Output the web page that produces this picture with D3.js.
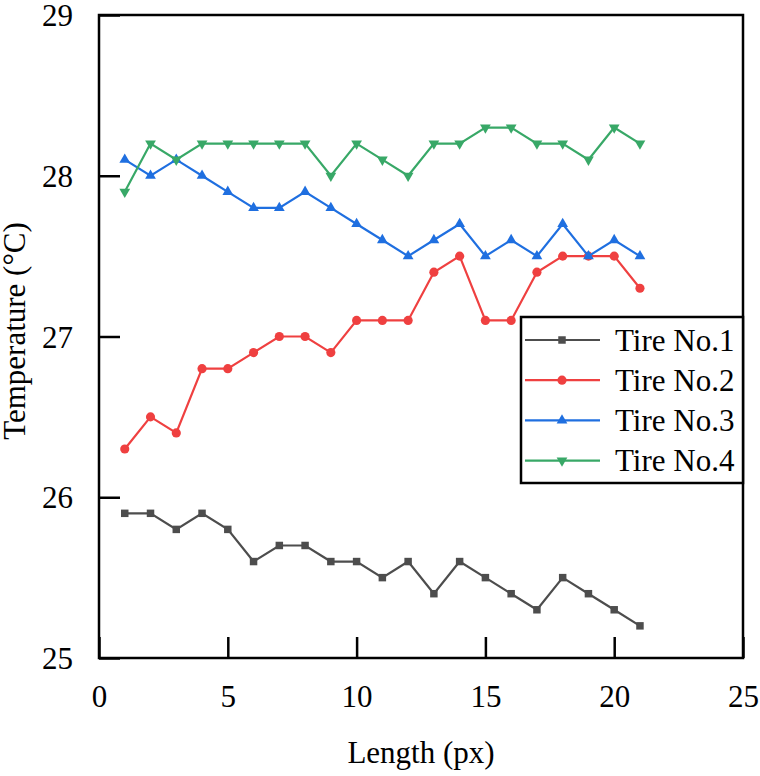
<!DOCTYPE html>
<html>
<head>
<meta charset="utf-8">
<script src="https://cdn.jsdelivr.net/npm/d3@7"></script>
</head>
<body style="margin:0;background:#fff">
<svg width="760" height="776" font-family="Liberation Serif"></svg>
<script>
// dati
const lengths = d3.range(1, 22);
const tire1 = [25.9, 25.9, 25.8, 25.9, 25.8, 25.6, 25.7, 25.7, 25.6, 25.6, 25.5, 25.6, 25.4, 25.6, 25.5, 25.4, 25.3, 25.5, 25.4, 25.3, 25.2];
const tire2 = [26.3, 26.5, 26.4, 26.8, 26.8, 26.9, 27.0, 27.0, 26.9, 27.1, 27.1, 27.1, 27.4, 27.5, 27.1, 27.1, 27.4, 27.5, 27.5, 27.5, 27.3];
const tire3 = [28.1, 28.0, 28.1, 28.0, 27.9, 27.8, 27.8, 27.9, 27.8, 27.7, 27.6, 27.5, 27.6, 27.7, 27.5, 27.6, 27.5, 27.7, 27.5, 27.6, 27.5];
const tire4 = [27.9, 28.2, 28.1, 28.2, 28.2, 28.2, 28.2, 28.2, 28.0, 28.2, 28.1, 28.0, 28.2, 28.2, 28.3, 28.3, 28.2, 28.2, 28.1, 28.3, 28.2];
const seriesNames = ["Tire No.1", "Tire No.2", "Tire No.3", "Tire No.4"];
const xTicks = [0, 5, 10, 15, 20, 25];
const yTicks = [25, 26, 27, 28, 29];

const colors = ["#4d4d4d", "#ef4040", "#1f6fe0", "#38a867"];
const symbols = [d3.symbolSquare, d3.symbolCircle, d3.symbolTriangle, "down"];

const FONT = "Liberation Serif";
const svg = d3.select("svg");
const mLeft = 99, mRight = 743, mTop = 15, mBottom = 658;
const fontSize = 31;

const x = d3.scaleLinear().domain([0, 25]).range([mLeft, mRight]);
const y = d3.scaleLinear().domain([25, 29]).range([mBottom, mTop]);

const series = [tire1, tire2, tire3, tire4].map((vals, i) => ({
  name: seriesNames[i],
  color: colors[i],
  symbol: symbols[i],
  points: vals.map((v, j) => ({ x: lengths[j], y: v }))
}));

function marker(sel, sym, color) {
  if (sym === "down") {
    sel.append("path")
      .attr("d", d3.symbol().type(d3.symbolTriangle).size(50))
      .attr("transform", "rotate(180)")
      .attr("fill", color);
  } else {
    const size = sym === d3.symbolCircle ? 66 : sym === d3.symbolSquare ? 56 : 50;
    sel.append("path")
      .attr("d", d3.symbol().type(sym).size(size))
      .attr("fill", color);
  }
}

// linee
const line = d3.line().x(d => x(d.x)).y(d => y(d.y));
series.forEach(s => {
  svg.append("path")
    .datum(s.points)
    .attr("d", line)
    .attr("fill", "none")
    .attr("stroke", s.color)
    .attr("stroke-width", 2.2);
  svg.append("g").selectAll("g")
    .data(s.points)
    .join("g")
    .attr("transform", d => `translate(${x(d.x)},${y(d.y)})`)
    .each(function () { marker(d3.select(this), s.symbol, s.color); });
});

// assi
const fmt = d3.format("d");
const xAxis = svg.append("g")
  .attr("transform", `translate(0,${mBottom})`)
  .call(d3.axisBottom(x).tickValues(xTicks).tickFormat(fmt).tickSizeInner(-21).tickSizeOuter(0));
const yAxis = svg.append("g")
  .attr("transform", `translate(${mLeft},0)`)
  .call(d3.axisLeft(y).tickValues(yTicks).tickFormat(fmt).tickSizeInner(-21).tickSizeOuter(0));
[xAxis, yAxis].forEach(a => {
  a.attr("font-family", FONT).attr("font-size", fontSize);
  a.select(".domain").remove();
  a.selectAll(".tick line").attr("stroke", "#000").attr("stroke-width", 2.5);
  a.selectAll(".tick text")
    .attr("font-family", FONT)
    .attr("font-size", fontSize)
    .attr("fill", "#000");
});
yAxis.selectAll(".tick text").attr("dy", "0.34em").attr("x", -26);
xAxis.selectAll(".tick text").attr("dy", 0).attr("y", 49);

// cornice
svg.append("rect")
  .attr("x", mLeft).attr("y", mTop)
  .attr("width", mRight - mLeft).attr("height", mBottom - mTop)
  .attr("fill", "none")
  .attr("stroke", "#000")
  .attr("stroke-width", 2.5);

// titoli assi
svg.append("text")
  .attr("x", (mLeft + mRight) / 2).attr("y", 763)
  .attr("text-anchor", "middle")
  .attr("font-family", FONT)
  .attr("font-size", fontSize)
  .text("Length (px)");
svg.append("text")
  .attr("transform", `translate(25,331) rotate(-90)`)
  .attr("text-anchor", "middle")
  .attr("font-family", FONT)
  .attr("font-size", fontSize)
  .text("Temperature (°C)");

// legenda
const legend = svg.append("g");
legend.append("rect")
  .attr("x", 521).attr("y", 317)
  .attr("width", 222).attr("height", 166)
  .attr("fill", "#fff")
  .attr("stroke", "#000")
  .attr("stroke-width", 2.5);
series.forEach((s, i) => {
  const ly = 340 + i * 40.2;
  const g = legend.append("g");
  g.append("line")
    .attr("x1", 525).attr("x2", 600)
    .attr("y1", ly).attr("y2", ly)
    .attr("stroke", s.color).attr("stroke-width", 2.2);
  const m = g.append("g").attr("transform", `translate(562,${ly})`);
  marker(m, s.symbol, s.color);
  g.append("text")
    .attr("x", 615).attr("y", ly)
    .attr("dy", "0.34em")
    .attr("font-family", FONT)
    .attr("font-size", fontSize)
    .text(s.name);
});
</script>
</body>
</html>
